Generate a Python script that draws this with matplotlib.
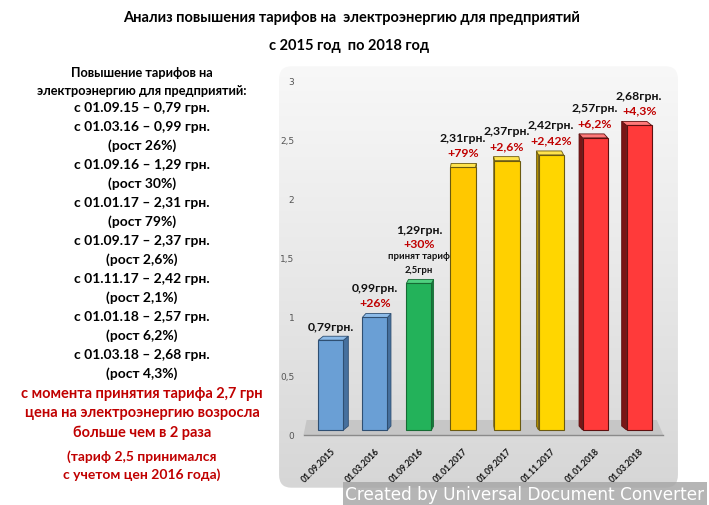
import numpy as np
import matplotlib
matplotlib.use('Agg')
import matplotlib.pyplot as plt
from matplotlib.patches import Polygon, FancyBboxPatch, Rectangle

# Данные
dates = ['01.09.2015', '01.03.2016', '01.09.2016', '01.01.2017',
         '01.09.2017', '01.11.2017', '01.01.2018', '01.03.2018']
tariffs = [0.79, 0.99, 1.29, 2.31, 2.37, 2.42, 2.57, 2.68]
value_labels = ['0,79грн.', '0,99грн.', '1,29грн.', '2,31грн.', '2,37грн.',
                '2,42грн.', '2,57грн.', '2,68грн.']
pct_labels = ['', '+26%', '+30%', '+79%', '+2,6%', '+2,42%', '+6,2%', '+4,3%']
yticks = [0, 0.5, 1, 1.5, 2, 2.5, 3]
ytick_labels = ['0', '0,5', '1', '1,5', '2', '2,5', '3']

title_lines = ['Анализ повышения тарифов на  электроэнергию для предприятий',
               'с 2015 год  по 2018 год']
side_head = ['Повышение тарифов на', 'электроэнергию для предприятий:']
side_lines = ['с 01.09.15 – 0,79 грн.', 'с 01.03.16 – 0,99 грн.', '(рост 26%)',
              'с 01.09.16 – 1,29 грн.', '(рост 30%)', 'с 01.01.17 – 2,31 грн.',
              '(рост 79%)', 'с 01.09.17 – 2,37 грн.', '(рост 2,6%)',
              'с 01.11.17 – 2,42 грн.', '(рост 2,1%)', 'с 01.01.18 – 2,57 грн.',
              '(рост 6,2%)', 'с 01.03.18 – 2,68 грн.', '(рост 4,3%)']
red_lines = ['с момента принятия тарифа 2,7 грн',
             'цена на электроэнергию возросла', 'больше чем в 2 раза']
note_lines = ['(тариф 2,5 принимался', 'с учетом цен 2016 года)']

front = ['#6a9fd5', '#6a9fd5', '#23b25a', '#ffc800', '#ffd000', '#ffd600', '#ff3a3a', '#ff3a3a']
side = ['#46709e', '#46709e', '#157a3b', '#b08c00', '#b08c00', '#b08c00', '#7a1515', '#7a1515']
topc = ['#8dbbe8', '#8dbbe8', '#4fd07f', '#ffe34d', '#ffe34d', '#ffe34d', '#ff7a7a', '#ff7a7a']
edge = ['#2f4f72', '#2f4f72', '#166b34', '#6b5a10', '#6b5a10', '#6b5a10', '#5e1010', '#5e1010']

plt.rcParams['font.family'] = ['Lato', 'DejaVu Sans']

W, H = 709, 506
fig = plt.figure(figsize=(W / 100, H / 100), dpi=100)

# фон панели с градиентом
bg = fig.add_axes([275 / W, 1 - 493 / H, 407 / W, 430 / H])
bg.set_axis_off()
grad = np.linspace(0, 1, 200)[:, None] * np.ones((1, 10))
img = bg.imshow(grad, cmap=matplotlib.colors.LinearSegmentedColormap.from_list(
    'g', ['#f8f8f8', '#e8e8e8', '#d6d6d6']), aspect='auto', extent=[0, 1, 0, 1], origin='upper')
clip = FancyBboxPatch((0.01, 0.01), 0.98, 0.98, boxstyle='round,pad=0,rounding_size=0.03',
                      transform=bg.transAxes, facecolor='none', edgecolor='none')
bg.add_patch(clip)
img.set_clip_path(clip)
bg.set_xlim(0, 1)
bg.set_ylim(0, 1)

# ось с подписями (задняя стенка)
wall = fig.add_axes([300 / W, 1 - 436 / H, 370 / W, 355 / H])
wall.set_facecolor('none')
wall.set_ylim(0, 3)
wall.set_yticks(yticks)
wall.set_yticklabels(ytick_labels, fontsize=6.5, color='#555555', family='DejaVu Sans')
wall.set_xticks([])
wall.tick_params(length=0, pad=4)
for s in wall.spines.values():
    s.set_visible(False)

# столбцы
ax = fig.add_axes([300 / W, 1 - 440 / H, 370 / W, 350 / H])
ax.set_facecolor('none')
x = np.arange(len(tariffs))
w = 0.57
ax.set_xlim(-0.7, 7.7)
ax.set_ylim(-0.079, 3)

# пол
ax.add_patch(Polygon([(-0.62, -0.044), (7.55, -0.044), (7.4, 0.088), (-0.55, 0.088)],
                     closed=True, facecolor='#c6c6c6', edgecolor='none', zorder=1))
ax.plot([-0.62, 7.55], [-0.044, -0.044], color='#8a8a8a', lw=1.0, zorder=1)

dy = 0.035
for i, h in enumerate(tariffs):
    dx = -(i - 3.5) * 0.032
    xl, xr = x[i] - w / 2, x[i] + w / 2
    xs = xr if dx > 0 else xl
    ax.add_patch(Polygon([(xs, 0), (xs + dx, dy), (xs + dx, h + dy), (xs, h)],
                         closed=True, facecolor=side[i], edgecolor=edge[i], lw=0.6, zorder=2))
    ax.add_patch(Polygon([(xl, h), (xl + dx, h + dy), (xr + dx, h + dy), (xr, h)],
                         closed=True, facecolor=topc[i], edgecolor=edge[i], lw=0.6, zorder=2))
ax.bar(x, tariffs, width=w, color=front, edgecolor=edge, linewidth=0.8, zorder=3)

for i, h in enumerate(tariffs):
    top = h + dy
    if i == 2:
        ax.annotate('2,5грн', (x[i], top), xytext=(0, 7), textcoords='offset points',
                    ha='center', va='center', fontsize=6.8, fontweight='bold', color='#111111')
        ax.annotate('принят тариф', (x[i], top), xytext=(0, 17), textcoords='offset points',
                    ha='center', va='center', fontsize=6.8, fontweight='bold', color='#111111')
        ax.annotate(pct_labels[i], (x[i], top), xytext=(0, 26), textcoords='offset points',
                    ha='center', va='center', fontsize=8.8, fontweight='bold', color='#c00000')
        ax.annotate(value_labels[i], (x[i], top), xytext=(0, 36), textcoords='offset points',
                    ha='center', va='center', fontsize=8.8, fontweight='bold', color='#111111')
    elif pct_labels[i]:
        ax.annotate(pct_labels[i], (x[i], top), xytext=(0, 8), textcoords='offset points',
                    ha='center', va='center', fontsize=8.8, fontweight='bold', color='#c00000')
        ax.annotate(value_labels[i], (x[i], top), xytext=(0, 19), textcoords='offset points',
                    ha='center', va='center', fontsize=8.8, fontweight='bold', color='#111111')
    else:
        ax.annotate(value_labels[i], (x[i], top), xytext=(0, 7), textcoords='offset points',
                    ha='center', va='center', fontsize=8.8, fontweight='bold', color='#111111')

ax.set_yticks([])
ax.set_xticks(x)
ax.set_xticklabels(dates, rotation=45, ha='right', rotation_mode='anchor',
                   fontsize=6.2, fontweight='bold', color='#111111')
ax.tick_params(length=0)
ax.tick_params(axis='x', pad=5)
for s in ax.spines.values():
    s.set_visible(False)

# заголовок
fig.text(352 / W, 1 - 18 / H, title_lines[0], ha='center', va='center',
         fontsize=10.5, fontweight='bold')
fig.text(349 / W, 1 - 46 / H, title_lines[1], ha='center', va='center',
         fontsize=10.5, fontweight='bold')

# левый текст
cx = 142 / W
fig.text(cx, 1 - 73 / H, side_head[0], ha='center', va='center', fontsize=9.2, fontweight='bold')
fig.text(cx, 1 - 91 / H, side_head[1], ha='center', va='center', fontsize=9.2, fontweight='bold')
for k, line in enumerate(side_lines):
    fig.text(cx, 1 - (108 + k * 19) / H, line, ha='center', va='center',
             fontsize=10, fontweight='bold')
for k, line in enumerate(red_lines):
    fig.text(cx, 1 - (394 + k * 19.5) / H, line, ha='center', va='center',
             fontsize=10.5, fontweight='bold', color='#c00000')
for k, line in enumerate(note_lines):
    fig.text(cx, 1 - (457 + k * 18) / H, line, ha='center', va='center',
             fontsize=10, fontweight='bold', color='#c00000')

# водяной знак
fig.patches.append(Rectangle((343 / W, 0), 364 / W, 23 / H,
                   transform=fig.transFigure, facecolor='#a8a8a8', alpha=0.85,
                   edgecolor='none'))
fig.text(345 / W, 11 / H, 'Created by Universal Document Converter', ha='left',
         va='center', fontsize=12.2, color='white', family='DejaVu Sans')

fig.savefig('out.png', dpi=100)
